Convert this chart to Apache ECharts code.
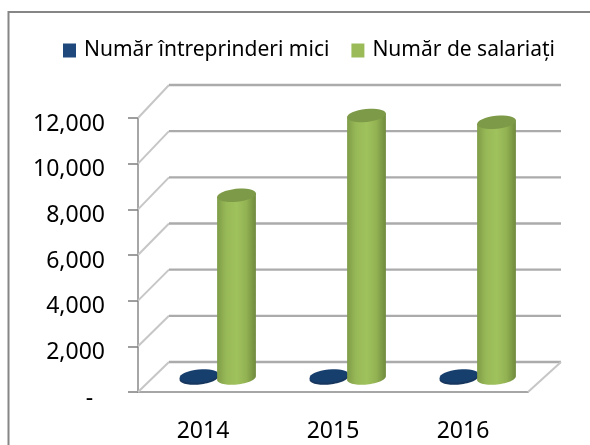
<!DOCTYPE html>
<html>
<head>
<meta charset="utf-8">
<style>
html, body { margin: 0; padding: 0; background: #fff; }
#chart { width: 590px; height: 445px; }
</style>
<script src="https://cdn.jsdelivr.net/npm/echarts@6/dist/echarts.min.js"></script>
</head>
<body>
<div id="chart"></div>
<script>
const years = ['2014', '2015', '2016'];
const firms = [90, 90, 90];
const employees = [8000, 11500, 11200];
const yTicks = [0, 2000, 4000, 6000, 8000, 10000, 12000];
const seriesNames = ['Număr întreprinderi mici', 'Număr de salariați'];

const fontName = '"Noto Sans", sans-serif';
const TILT = -6 * Math.PI / 180;

// punct pe elipsa inclinata
const ellipsePoint = (cx, cy, rx, ry, a) => {
    const px = rx * Math.cos(a);
    const py = ry * Math.sin(a);
    return [
        cx + px * Math.cos(TILT) - py * Math.sin(TILT),
        cy + px * Math.sin(TILT) + py * Math.cos(TILT),
    ];
};

const arc = (cx, cy, rx, ry, from, to) => {
    const pts = [];
    for (let i = 0; i <= 32; i++) {
        pts.push(ellipsePoint(cx, cy, rx, ry, from + (to - from) * i / 32));
    }
    return pts;
};

const cylinder = (offset, bodyFill, topFill) => (params, api) => {
    const base = api.coord([api.value(0), 0]);
    const top = api.coord([api.value(0), api.value(1)]);
    const cx = base[0] + offset;
    const rx = 19.5;
    const ry = 6.5;
    const by = base[1] - 14;
    const ty = top[1] - 14;
    const topEdge = [ellipsePoint(cx, ty, rx, ry, 0), ellipsePoint(cx, ty, rx, ry, Math.PI)];
    return {
        type: 'group',
        children: [
            {
                type: 'polygon',
                shape: { points: arc(cx, by, rx, ry, Math.PI, 0).concat(topEdge) },
                style: { fill: bodyFill },
            },
            {
                type: 'polygon',
                shape: { points: arc(cx, ty, rx, ry, 0, Math.PI * 2) },
                style: { fill: topFill },
            },
        ],
    };
};

// peretele din spate si podeaua
const renderWall = (params, api) => {
    const v = api.value(0);
    const y = api.coord([0, v])[1];
    const left = params.coordSys.x;
    const right = left + params.coordSys.width;
    const dy = 30 + 3 * v / 12000;
    const children = [
        {
            type: 'line',
            shape: { x1: left, y1: y, x2: left + 31, y2: y - dy },
            style: { stroke: '#c6c6c6', lineWidth: 2 },
        },
        {
            type: 'line',
            shape: { x1: left + 31, y1: y - dy, x2: right + 33, y2: y - dy },
            style: { stroke: '#ababab', lineWidth: 2.4 },
        },
    ];
    if (v === 0) {
        children.push({
            type: 'line',
            shape: { x1: right, y1: y, x2: right + 33, y2: y - dy },
            style: { stroke: '#c6c6c6', lineWidth: 2 },
        });
    }
    return { type: 'group', children };
};

const greenBody = {
    type: 'linear', x: 0, y: 0, x2: 1, y2: 0,
    colorStops: [
        { offset: 0, color: '#7f9c48' },
        { offset: 0.22, color: '#97b856' },
        { offset: 0.5, color: '#a0c25d' },
        { offset: 0.75, color: '#93b353' },
        { offset: 1, color: '#6f8a3d' },
    ],
};

const chart = echarts.init(document.getElementById('chart'));
chart.setOption({
    animation: false,
    backgroundColor: '#fff',
    textStyle: { fontFamily: fontName },
    graphic: [{
        type: 'rect',
        shape: { x: 8.5, y: 12, width: 700, height: 600 },
        style: { fill: 'none', stroke: '#868686', lineWidth: 2 },
        silent: true,
        z: 0,
    }],
    legend: {
        data: seriesNames.map(name => ({ name })),
        left: 58,
        top: 35,
        itemWidth: 13,
        itemHeight: 14,
        itemGap: 22,
        icon: 'rect',
        textStyle: { fontSize: 21, color: '#000', fontFamily: fontName, padding: [0, 0, 0, 3] },
    },
    grid: { left: 138, right: 62, top: 118, bottom: 53 },
    xAxis: {
        type: 'category',
        data: years,
        axisLine: { lineStyle: { color: '#a6a6a6', width: 2 } },
        axisTick: { length: 8, lineStyle: { color: '#7f7f7f', width: 1.5 } },
        axisLabel: { fontSize: 23, color: '#000', margin: 28, fontFamily: fontName },
    },
    yAxis: {
        type: 'value',
        min: 0,
        max: 12000,
        interval: 2000,
        axisLine: { show: true, lineStyle: { color: '#a6a6a6', width: 2 } },
        axisTick: { show: true, length: 10, lineStyle: { color: '#7f7f7f', width: 1.5 } },
        splitLine: { show: false },
        axisLabel: {
            fontSize: 23,
            color: '#000',
            margin: 33,
            fontFamily: fontName,
            verticalAlign: 'top',
            lineHeight: 12,
            formatter: v => (v === 0 ? '-  ' : v.toLocaleString('en-US')),
        },
    },
    series: [
        {
            name: 'wall',
            type: 'custom',
            z: 1,
            clip: false,
            silent: true,
            data: yTicks.map(v => [v]),
            encode: { y: 0 },
            renderItem: renderWall,
        },
        {
            name: seriesNames[0],
            type: 'custom',
            z: 2,
            clip: false,
            itemStyle: { color: '#1f497d' },
            data: years.map((y, i) => [i, firms[i]]),
            renderItem: cylinder(-4, '#17375e', '#173f6e'),
        },
        {
            name: seriesNames[1],
            type: 'custom',
            z: 3,
            clip: false,
            itemStyle: { color: '#9bbb59' },
            data: years.map((y, i) => [i, employees[i]]),
            renderItem: cylinder(33.5, greenBody, '#7d9a48'),
        },
    ],
});
</script>
</body>
</html>
